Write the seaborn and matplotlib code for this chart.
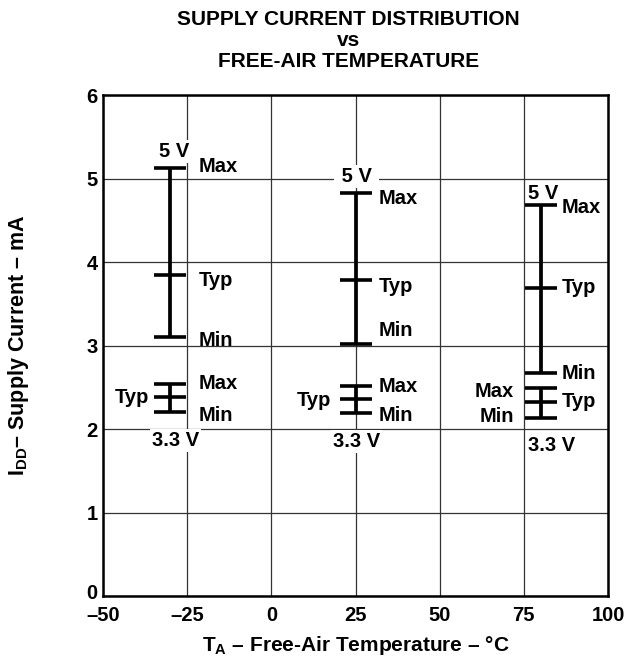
import matplotlib
matplotlib.use("Agg")
import numpy as np
import pandas as pd
import matplotlib.pyplot as plt
import matplotlib.transforms as mtransforms
import seaborn as sns

# temperature of each measured group (degC)
temps = [-30, 25, 80]

# supply current, mA, 5 V supply
i5_min = [3.10, 3.02, 2.67]
i5_typ = [3.84, 3.78, 3.69]
i5_max = [5.13, 4.83, 4.68]

# supply current, mA, 3.3 V supply
i33_min = [2.20, 2.19, 2.13]
i33_typ = [2.38, 2.36, 2.32]
i33_max = [2.54, 2.51, 2.49]

x_ticks = [-50, -25, 0, 25, 50, 75, 100]
y_ticks = [0, 1, 2, 3, 4, 5, 6]

# long table of every tick mark
rows = []
for k, t in enumerate(temps):
    for supply, lo, ty, hi in (("5 V", i5_min, i5_typ, i5_max),
                               ("3.3 V", i33_min, i33_typ, i33_max)):
        rows.append((t, supply, "Min", lo[k]))
        rows.append((t, supply, "Typ", ty[k]))
        rows.append((t, supply, "Max", hi[k]))
df = pd.DataFrame(rows, columns=["temp", "supply", "stat", "value"])

sns.set_theme(style="white")
plt.rcParams["font.family"] = ["Liberation Sans", "DejaVu Sans"]
plt.rcParams["font.weight"] = "bold"
plt.rcParams["text.color"] = "black"
plt.rcParams["axes.labelcolor"] = "black"
plt.rcParams["xtick.color"] = "black"
plt.rcParams["ytick.color"] = "black"
plt.rcParams["mathtext.fontset"] = "custom"
plt.rcParams["mathtext.rm"] = "Liberation Sans:bold"
plt.rcParams["mathtext.bf"] = "Liberation Sans:bold"
plt.rcParams["mathtext.it"] = "Liberation Sans:bold"

fig = plt.figure(figsize=(6.34, 6.56), dpi=100)
ax = fig.add_axes([0.1625, 0.0915, 0.7965, 0.7635])

# vertical spans min..max for each supply
ax.vlines(temps, i5_min, i5_max, color="black", lw=2.7, zorder=3)
ax.vlines(temps, i33_min, i33_max, color="black", lw=2.7, zorder=3)

# horizontal tick for each min / typ / max
sns.scatterplot(data=df, x="temp", y="value", marker="_", s=500,
                color="black", linewidth=2.6, legend=False, ax=ax, zorder=4)

ax.set_xlim(-50, 100)
ax.set_ylim(0, 6)
ax.set_xticks(x_ticks)
ax.set_yticks(y_ticks)
ax.set_xticklabels([str(v).replace("-", "\u2013") for v in x_ticks])
ax.tick_params(axis="y", length=0, labelsize=14.5, pad=4)
ax.tick_params(axis="x", length=0, labelsize=14.5, pad=7)
for lab in ax.get_xticklabels() + ax.get_yticklabels():
    lab.set_fontweight("bold")
for lab in ax.get_yticklabels():
    lab.set_verticalalignment("center_baseline")
# lift the "0" a little so it clears the "-50" below it
zero_lab = ax.get_yticklabels()[0]
zero_lab.set_transform(zero_lab.get_transform() +
                       mtransforms.ScaledTranslation(0, 3 / 72, fig.dpi_scale_trans))
ax.grid(True, color="#333333", linewidth=0.9)
for sp in ax.spines.values():
    sp.set_color("black")
    sp.set_linewidth(1.8)

ax.set_xlabel("$\\mathregular{T_A}$ \u2013 Free-Air Temperature \u2013 \u00b0C",
              fontsize=15, fontweight="bold")
ax.xaxis.set_label_coords(0.5, -0.076)
ax.set_ylabel("$\\mathregular{I_{DD}}$\u2013 Supply Current \u2013 mA",
              fontsize=15.5, fontweight="bold")
ax.yaxis.set_label_coords(-0.142, 0.5)

fig.text(0.55, 0.985, "SUPPLY CURRENT DISTRIBUTION\nvs\nFREE-AIR TEMPERATURE",
         ha="center", va="top", fontsize=15, fontweight="bold", linespacing=1.15)

# text labels: (text, supply, stat, dx px, dy px, ha)
labels = [
    [("Max", "5 V", "Max", 28, 1, "left"), ("Typ", "5 V", "Typ", 28, -5, "left"),
     ("Min", "5 V", "Min", 28, -3, "left"), ("Max", "3.3 V", "Max", 28, 0, "left"),
     ("Min", "3.3 V", "Min", 28, -3, "left"), ("Typ", "3.3 V", "Typ", -21, 0, "right"),
     ("5 V", "5 V", "Max", 4, 16, "center"), ("3.3 V", "3.3 V", "Min", 5, -28, "center")],
    [("Max", "5 V", "Max", 23, -6, "left"), ("Typ", "5 V", "Typ", 23, -6, "left"),
     ("Min", "5 V", "Min", 23, 13, "left"), ("Max", "3.3 V", "Max", 23, 0, "left"),
     ("Min", "3.3 V", "Min", 23, -2, "left"), ("Typ", "3.3 V", "Typ", -24, -2, "right"),
     (" 5 V ", "5 V", "Max", 1, 16, "center"), ("3.3 V", "3.3 V", "Min", 1, -28, "center")],
    [("Max", "5 V", "Max", 21, -2, "left"), ("Typ", "5 V", "Typ", 21, 0, "left"),
     ("Min", "5 V", "Min", 21, 0, "left"), ("Typ", "3.3 V", "Typ", 21, 1, "left"),
     ("Max", "3.3 V", "Max", -27, -3, "right"), ("Min", "3.3 V", "Min", -27, 2, "right"),
     ("5 V", "5 V", "Max", 2, 12, "center"), ("3.3 V", "3.3 V", "Min", 11, -27, "center")],
]
for t, group in zip(temps, labels):
    sub = df[df["temp"] == t]
    for text, supply, stat, dx, dy, ha in group:
        v = sub[(sub["supply"] == supply) & (sub["stat"] == stat)]["value"].iloc[0]
        # only the supply-voltage tags knock out the grid behind them
        box = None
        if "V" in text:
            box = dict(boxstyle="square,pad=0.1", fc="white", ec="none")
        ax.annotate(text, (t, v), xytext=(dx, dy), textcoords="offset pixels",
                    ha=ha, va="center", fontsize=14.5, fontweight="bold",
                    zorder=2.5, bbox=box)

fig.savefig("out.png", dpi=100)
